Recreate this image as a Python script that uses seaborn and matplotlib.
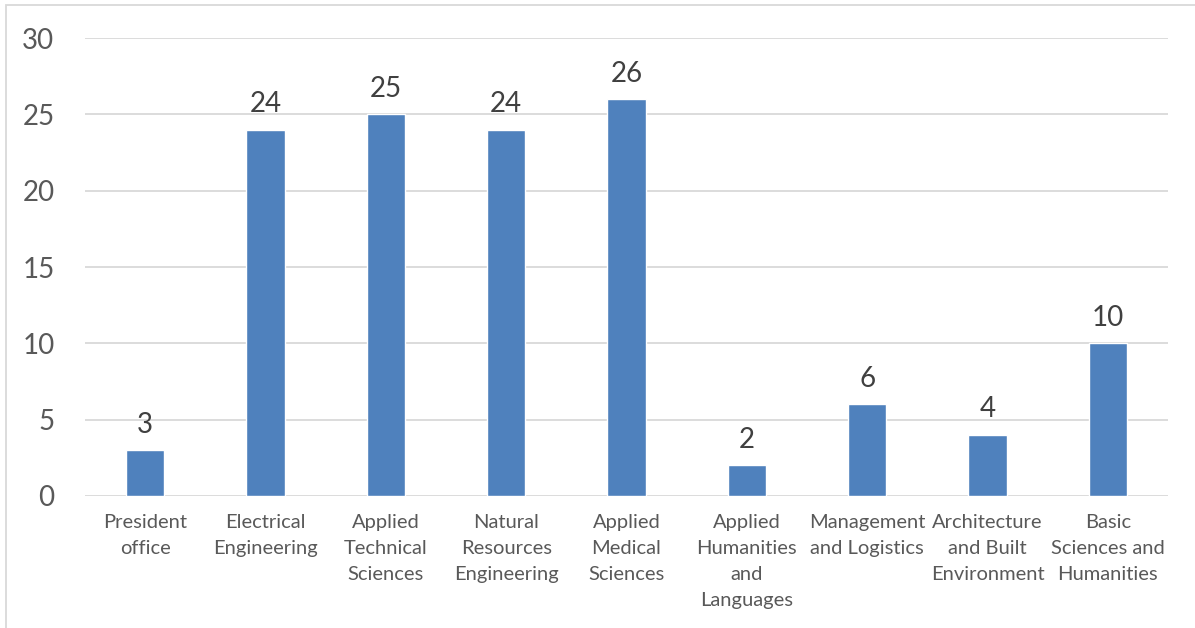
import matplotlib
matplotlib.use("Agg")
import matplotlib.pyplot as plt
import seaborn as sns
import pandas as pd
from matplotlib.patches import Rectangle

# Faculty / department names (wrapped as shown on the axis) and their counts
categories = [
    "President\noffice",
    "Electrical\nEngineering",
    "Applied\nTechnical\nSciences",
    "Natural\nResources\nEngineering",
    "Applied\nMedical\nSciences",
    "Applied\nHumanities\nand\nLanguages",
    "Management\nand Logistics",
    "Architecture\nand Built\nEnvironment",
    "Basic\nSciences and\nHumanities",
]
values = [3, 24, 25, 24, 26, 2, 6, 4, 10]
y_ticks = [0, 5, 10, 15, 20, 25, 30]

df = pd.DataFrame({"unit": categories, "count": values})

sns.set_theme(style="white")
plt.rcParams["font.family"] = ["Lato", "DejaVu Sans"]

fig = plt.figure(figsize=(11.95, 6.28), dpi=100)
ax = fig.add_axes([85 / 1195, 1 - 496 / 628, (1168 - 85) / 1195, (496 - 38) / 628])

sns.barplot(data=df, x="unit", y="count", color="#4f81bd", saturation=1,
            width=0.32, ax=ax, zorder=3)

ax.set_ylim(0, 30)
ax.set_yticks(y_ticks)
ax.set_xlim(-0.5, len(categories) - 0.5)
ax.set_xlabel("")
ax.set_ylabel("")

for s in ax.spines.values():
    s.set_visible(False)
ax.yaxis.grid(True, color="#d9d9d9", linewidth=1.3, zorder=0)
ax.xaxis.grid(False)
ax.set_axisbelow(True)

ax.tick_params(axis="y", length=0, pad=22, labelsize=20, labelcolor="#595959")
ax.tick_params(axis="x", length=0, pad=13, labelsize=14.5, labelcolor="#595959")
for lbl in ax.get_xticklabels():
    lbl.set_linespacing(1.65)
    lbl.set_ha("center")
    lbl.set_multialignment("center")
    lbl.set_va("top")

ax.bar_label(ax.containers[0], labels=[str(v) for v in values], padding=9,
             fontsize=20, color="#404040")

# Light outer frame of the chart area
fig.patches.append(Rectangle((5.5 / 1195, -0.1), 1.2, 1.1 - 5.5 / 628,
                             transform=fig.transFigure, fill=False,
                             edgecolor="#d9d9d9", linewidth=1.3))

fig.savefig("out.png", dpi=100)
